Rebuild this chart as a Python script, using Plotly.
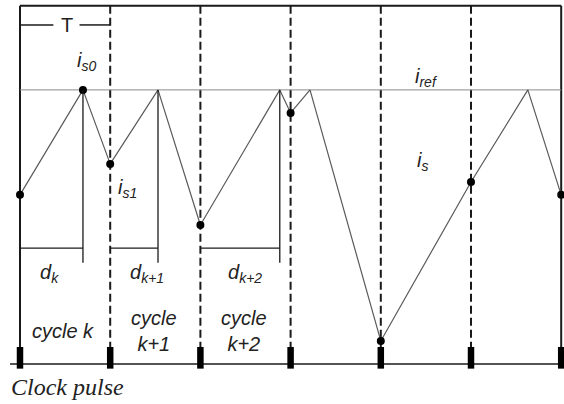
"""Current-mode control timing diagram: sampled current vs. clock pulses."""
import plotly.graph_objects as go

# time in clock periods T, current normalised to i_ref = 1
clock_t = [0, 1, 2, 3, 4, 5, 6]
wave_t = [0, 0.698, 1.0, 1.53, 2.0, 2.88, 3.0, 3.215, 4.0, 5.0, 5.63, 6.0]
wave_i = [0.617, 1.0, 0.73, 1.0, 0.507, 1.0, 0.916, 1.0, 0.084, 0.664, 1.0, 0.617]
sample_t = [0, 0.698, 1.0, 2.0, 3.0, 4.0, 5.0, 6.0]
sample_i = [0.617, 1.0, 0.73, 0.507, 0.916, 0.084, 0.664, 0.617]
duty_start = [0, 1, 2]
duty_end = [0.698, 1.53, 2.88]
duty_labels = ["<i>d<sub>k</sub></i>", "<i>d<sub>k+1</sub></i>", "<i>d<sub>k+2</sub></i>"]
cycle_labels = ["<i>cycle k</i>", "<i>cycle<br>k+1</i>", "<i>cycle<br>k+2</i>"]
i_ref = 1.0
top_i = 1.307
T_level = 1.237
duty_bar_i = 0.423
duty_tick_i = 0.369
pulse_top, pulse_bot = 0.062, -0.017

INK = "#1a1a1a"
fig = go.Figure()

# frame: top edge, solid outer clock lines, time axis
fig.add_trace(go.Scatter(x=[clock_t[0], clock_t[-1]], y=[top_i, top_i], mode="lines",
                         line={"color": INK, "width": 2}))
for t in (clock_t[0], clock_t[-1]):
    fig.add_trace(go.Scatter(x=[t, t], y=[top_i, 0], mode="lines",
                             line={"color": INK, "width": 2}))
fig.add_trace(go.Scatter(x=[-0.11, 6.05], y=[0, 0], mode="lines",
                         line={"color": INK, "width": 1.5}))
# dashed clock lines
for t in clock_t[1:-1]:
    fig.add_trace(go.Scatter(x=[t, t], y=[top_i, pulse_top], mode="lines",
                             line={"color": INK, "width": 2, "dash": "8px,4px"}))
# clock pulses
for t in clock_t:
    fig.add_shape(type="rect", x0=t - 0.036, x1=t + 0.036, y0=pulse_bot, y1=pulse_top,
                  fillcolor="black", line={"width": 0})

# reference current
fig.add_trace(go.Scatter(x=[clock_t[0], clock_t[-1]], y=[i_ref, i_ref], mode="lines",
                         line={"color": "#8a8a8a", "width": 1}))
# switch current
fig.add_trace(go.Scatter(x=wave_t, y=wave_i, mode="lines",
                         line={"color": "#5a5a5a", "width": 1.2}))
fig.add_trace(go.Scatter(x=sample_t, y=sample_i, mode="markers",
                         marker={"color": "black", "size": 8}))

# duty-ratio brackets
for t0, t1 in zip(duty_start, duty_end):
    fig.add_trace(go.Scatter(x=[t0, t1], y=[duty_bar_i, duty_bar_i], mode="lines",
                             line={"color": INK, "width": 1.3}))
    fig.add_trace(go.Scatter(x=[t1, t1], y=[i_ref, duty_tick_i], mode="lines",
                             line={"color": INK, "width": 1.3}))

# T bracket
fig.add_trace(go.Scatter(x=[0, 0.37, None, 0.66, 1.0], y=[T_level, T_level, None, T_level, T_level],
                         mode="lines", line={"color": INK, "width": 1.5}))

txt = {"family": "Liberation Sans, Arial", "size": 20, "color": "#222"}
notes = [
    (0.52, T_level, "T"),
    (0.74, 1.105, "<i>i<sub>s0</sub></i>"),
    (1.19, 0.64, "<i>i<sub>s1</sub></i>"),
    (4.51, 1.045, "<i>i<sub>ref</sub></i>"),
    (4.46, 0.74, "<i>i<sub>s</sub></i>"),
]
for x, y, s in notes:
    fig.add_annotation(x=x, y=y, text=s, showarrow=False, font=txt)
for t0, s in zip(duty_start, duty_labels):
    fig.add_annotation(x=t0 + 0.33 + 0.08 * t0, y=0.33, text=s, showarrow=False, font=txt)
for t0, s in zip(duty_start, cycle_labels):
    fig.add_annotation(x=t0 + 0.48, y=0.122, text=s, showarrow=False, font=txt)
fig.add_annotation(x=-0.12, y=-0.084, xanchor="left", text="<i>Clock pulse</i>", showarrow=False,
                   font={"family": "Liberation Serif, Times New Roman", "size": 24, "color": "#222"})

fig.update_layout(
    width=564, height=404, margin={"l": 0, "r": 0, "t": 0, "b": 0},
    plot_bgcolor="white", paper_bgcolor="white", showlegend=False,
    xaxis={"range": [-0.2217, 6.031], "visible": False, "fixedrange": True},
    yaxis={"range": [-0.146, 1.328], "visible": False, "fixedrange": True},
)
fig.write_html("out.html", config={"displayModeBar": False},
               post_script="document.body.style.margin='0';document.body.style.overflow='hidden';")
